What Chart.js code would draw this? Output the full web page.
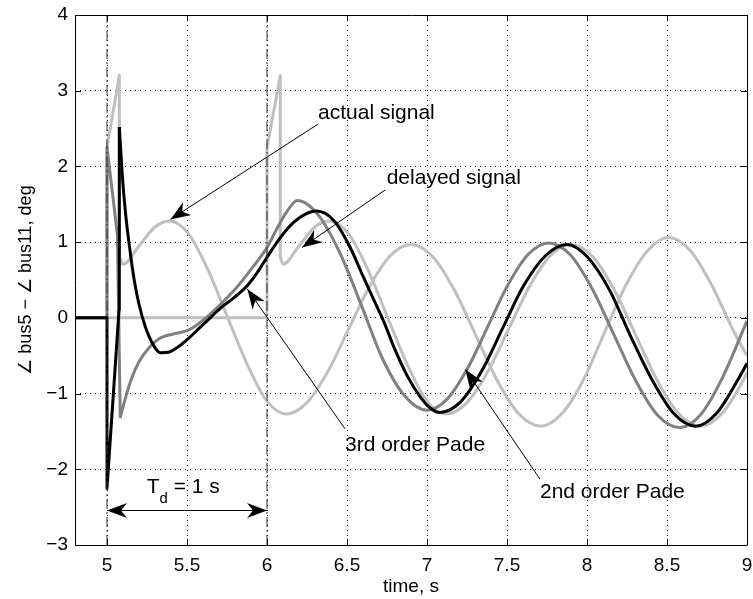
<!DOCTYPE html>
<html>
<head>
<meta charset="utf-8">
<script src="https://cdn.jsdelivr.net/npm/chart.js@4/dist/chart.umd.min.js"></script>
<style>
  html, body { margin: 0; padding: 0; background: #fff; }
</style>
</head>
<body>
<canvas id="chart" width="753" height="599"></canvas>
<script>
// tick values
const xTicks = [5, 5.5, 6, 6.5, 7, 7.5, 8, 8.5, 9];
const yTicks = [-3, -2, -1, 0, 1, 2, 3, 4];

// actual signal (light grey): step part, then the oscillation
const actualStepT = [4.8, 5, 5, 5.077, 5.077];
const actualStepV = [0, 0, 2.25, 3.2, 0.8];
const actualWaveT = [5.077, 5.10, 5.2, 5.3, 5.39, 5.51, 5.63, 5.755, 5.88, 6.0, 6.12, 6.25, 6.38, 6.51, 6.64, 6.77, 6.9, 7.035, 7.17, 7.305, 7.44, 7.575, 7.71, 7.845, 7.98, 8.11, 8.245, 8.38, 8.51, 8.645, 8.78, 8.91, 9.0];
const actualWaveV = [0.8, 0.71, 0.95, 1.2, 1.28, 1.11, 0.64, 0, -0.63, -1.1, -1.27, -1.12, -0.71, -0.15, 0.41, 0.82, 0.97, 0.81, 0.37, -0.23, -0.83, -1.27, -1.43, -1.26, -0.81, -0.19, 0.44, 0.89, 1.06, 0.89, 0.43, -0.15, -0.5];

// delayed signal (light grey)
const delayedStepT = [4.8, 6, 6, 6.083, 6.083];
const delayedStepV = [0, 0, 2.25, 3.2, 0.8];
const delayedWaveT = [6.083, 6.10, 6.2, 6.3, 6.39, 6.51, 6.63, 6.755, 6.88, 7.0, 7.12, 7.25, 7.38, 7.51, 7.64, 7.77, 7.9, 8.035, 8.17, 8.305, 8.44, 8.575, 8.71, 8.845, 8.98, 9.0];
const delayedWaveV = [0.8, 0.71, 0.95, 1.2, 1.28, 1.11, 0.64, 0, -0.63, -1.1, -1.27, -1.12, -0.71, -0.15, 0.41, 0.82, 0.97, 0.81, 0.37, -0.23, -0.83, -1.27, -1.43, -1.26, -0.81, -0.72];

// 2nd order Pade (dark grey)
const pade2StepT = [4.8, 5, 5, 5.065, 5.083];
const pade2StepV = [0, 0, 2.25, 1.1, -1.32];
const pade2WaveT = [5.083, 5.11, 5.15, 5.2, 5.26, 5.33, 5.42, 5.5, 5.57, 5.645, 5.72, 5.81, 5.9, 6.0, 6.06, 6.12, 6.19, 6.32, 6.455, 6.59, 6.72, 6.86, 7.0, 7.127, 7.253, 7.38, 7.507, 7.633, 7.76, 7.897, 8.033, 8.17, 8.307, 8.443, 8.58, 8.71, 8.84, 9.0];
const pade2WaveV = [-1.32, -1.1, -0.82, -0.58, -0.4, -0.27, -0.21, -0.17, -0.08, 0.05, 0.2, 0.4, 0.64, 0.93, 1.17, 1.39, 1.55, 1.36, 0.86, 0.165, -0.53, -1.03, -1.22, -1.07, -0.67, -0.115, 0.44, 0.84, 0.99, 0.83, 0.38, -0.23, -0.84, -1.29, -1.45, -1.28, -0.82, -0.04];

// 3rd order Pade (black)
const pade3StepT = [4.8, 5, 5, 5.075, 5.077];
const pade3StepV = [0, 0, -2.25, 0.1, 2.52];
const pade3WaveT = [5.077, 5.095, 5.115, 5.14, 5.17, 5.2, 5.24, 5.29, 5.333, 5.39, 5.44, 5.51, 5.58, 5.65, 5.71, 5.79, 5.875, 5.94, 6.0, 6.08, 6.166, 6.24, 6.31, 6.42, 6.52, 6.6, 6.667, 6.73, 6.8, 6.88, 6.96, 7.02, 7.08, 7.21, 7.34, 7.47, 7.6, 7.74, 7.875, 8.0, 8.14, 8.27, 8.41, 8.545, 8.68, 8.81, 8.945, 9.0];
const pade3WaveV = [2.52, 1.9, 1.4, 0.95, 0.5, 0.18, -0.12, -0.36, -0.46, -0.45, -0.39, -0.27, -0.13, 0.01, 0.13, 0.26, 0.42, 0.6, 0.8, 1.05, 1.26, 1.37, 1.41, 1.28, 0.93, 0.55, 0.24, -0.05, -0.42, -0.78, -1.05, -1.19, -1.25, -1.11, -0.71, -0.15, 0.41, 0.82, 0.97, 0.81, 0.37, -0.23, -0.83, -1.27, -1.43, -1.26, -0.81, -0.6];

// delay markers (dash-dot verticals)
const markerT = [5, 6];

const LIGHT = 'rgb(191,191,191)';
const DARK = 'rgb(128,128,128)';
const FONT = '"Liberation Sans", Arial, Helvetica, sans-serif';

function pts(ts, vs) {
  return ts.map((t, i) => ({ x: t, y: vs[i] }));
}

function line(ts, vs, color, smooth) {
  return {
    data: pts(ts, vs),
    borderColor: color,
    borderWidth: 3,
    pointRadius: 0,
    fill: false,
    borderJoinStyle: 'round',
    tension: smooth ? 0.4 : 0,
    cubicInterpolationMode: smooth ? 'monotone' : 'default'
  };
}

function marker(t) {
  return {
    data: [{ x: t, y: -3 }, { x: t, y: 4 }],
    borderColor: '#333',
    borderWidth: 1,
    borderDash: [10, 3, 2, 3],
    pointRadius: 0,
    fill: false
  };
}

// first dataset is drawn on top
const datasets = [
  marker(markerT[0]), marker(markerT[1]),
  line(pade3StepT, pade3StepV, '#000', false),
  line(pade3WaveT, pade3WaveV, '#000', true),
  line(pade2StepT, pade2StepV, DARK, false),
  line(pade2WaveT, pade2WaveV, DARK, true),
  line(delayedStepT, delayedStepV, LIGHT, false),
  line(delayedWaveT, delayedWaveV, LIGHT, true),
  line(actualStepT, actualStepV, LIGHT, false),
  line(actualWaveT, actualWaveV, LIGHT, true)
];

// arrows: [fromT, fromV, tipT, tipV]
const arrows = [
  [6.32, 2.56, 5.396, 1.30],
  [6.739, 1.69, 6.219, 0.93],
  [6.4875, -1.466, 5.877, 0.38],
  [7.706, -2.13, 7.239, -0.68]
];
const labels = [
  ['actual signal', 6.319, 2.625],
  ['delayed signal', 6.748, 1.77],
  ['3rd order Pade', 6.4875, -1.757],
  ['2nd order Pade', 7.706, -2.378]
];

function head(ctx, x1, y1, x2, y2) {
  const L = 20, W = 7.5, N = 14;
  const a = Math.atan2(y2 - y1, x2 - x1);
  ctx.save();
  ctx.translate(x2, y2);
  ctx.rotate(a);
  ctx.beginPath();
  ctx.moveTo(0, 0);
  ctx.lineTo(-L, -W);
  ctx.lineTo(-N, 0);
  ctx.lineTo(-L, W);
  ctx.closePath();
  ctx.fill();
  ctx.restore();
}

const notes = {
  id: 'notes',
  afterDatasetsDraw(chart) {
    const { ctx, scales: { x, y } } = chart;
    ctx.save();
    ctx.strokeStyle = '#000';
    ctx.fillStyle = '#000';
    ctx.lineWidth = 1;
    arrows.forEach(a => {
      const x1 = x.getPixelForValue(a[0]), y1 = y.getPixelForValue(a[1]);
      const x2 = x.getPixelForValue(a[2]), y2 = y.getPixelForValue(a[3]);
      ctx.beginPath();
      ctx.moveTo(x1, y1);
      ctx.lineTo(x2, y2);
      ctx.stroke();
      head(ctx, x1, y1, x2, y2);
    });

    // T_d double arrow between the markers
    const ya = Math.round(y.getPixelForValue(-2.54)) + 0.5;
    const xa = x.getPixelForValue(markerT[0]), xb = x.getPixelForValue(markerT[1]);
    ctx.beginPath();
    ctx.moveTo(xa, ya);
    ctx.lineTo(xb, ya);
    ctx.stroke();
    head(ctx, xb, ya, xa, ya);
    head(ctx, xa, ya, xb, ya);

    ctx.font = '21px ' + FONT;
    ctx.textBaseline = 'alphabetic';
    ctx.textAlign = 'left';
    labels.forEach(l => {
      ctx.fillText(l[0], x.getPixelForValue(l[1]), y.getPixelForValue(l[2]));
    });

    let tx = x.getPixelForValue(5.248);
    const ty = y.getPixelForValue(-2.308);
    ctx.fillText('T', tx, ty);
    tx += ctx.measureText('T').width;
    ctx.font = '15px ' + FONT;
    ctx.fillText('d', tx, ty + 10);
    tx += ctx.measureText('d').width;
    ctx.font = '21px ' + FONT;
    ctx.fillText(' = 1 s', tx, ty);
    ctx.restore();
  },
  afterDraw(chart) {
    const { ctx, chartArea: a, scales: { x, y } } = chart;
    ctx.save();
    ctx.strokeStyle = '#000';
    ctx.lineWidth = 1;
    ctx.beginPath();
    ctx.rect(Math.round(a.left) + 0.5, Math.round(a.top) + 0.5, Math.round(a.right - a.left), Math.round(a.bottom - a.top));
    xTicks.forEach(v => {
      const px = Math.round(x.getPixelForValue(v)) + 0.5;
      ctx.moveTo(px, a.bottom); ctx.lineTo(px, a.bottom - 6);
      ctx.moveTo(px, a.top); ctx.lineTo(px, a.top + 6);
    });
    yTicks.forEach(v => {
      const py = Math.round(y.getPixelForValue(v)) + 0.5;
      ctx.moveTo(a.left, py); ctx.lineTo(a.left + 6, py);
      ctx.moveTo(a.right, py); ctx.lineTo(a.right - 6, py);
    });
    ctx.stroke();
    ctx.restore();
  }
};

new Chart(document.getElementById('chart'), {
  type: 'line',
  data: { datasets },
  options: {
    responsive: false,
    animation: false,
    layout: { padding: { top: 15, right: 6, left: 0, bottom: 0 } },
    plugins: { legend: { display: false }, tooltip: { enabled: false } },
    scales: {
      x: {
        type: 'linear',
        min: 4.8,
        max: 9,
        afterBuildTicks: s => { s.ticks = xTicks.map(v => ({ value: v })); },
        afterFit: s => { s.height = 54; s.paddingLeft = 0; s.paddingRight = 0; },
        ticks: { color: '#000', font: { family: FONT, size: 19 }, padding: 9, maxRotation: 0, autoSkip: false,
                 callback: v => String(v) },
        grid: { color: '#000', lineWidth: 1, drawTicks: false },
        border: { display: false, dash: [1, 4] },
        title: { display: true, text: 'time, s', color: '#000', font: { family: FONT, size: 19, lineHeight: 1 }, padding: { top: 0, bottom: 2.5 } }
      },
      y: {
        min: -3,
        max: 4,
        afterBuildTicks: s => { s.ticks = yTicks.map(v => ({ value: v })); },
        afterFit: s => { s.width = 75; s.paddingTop = 0; s.paddingBottom = 0; },
        ticks: { color: '#000', font: { family: FONT, size: 19 }, padding: 7,
                 callback: v => String(v).replace('-', '\u2212') },
        grid: { color: '#000', lineWidth: 1, drawTicks: false },
        border: { display: false, dash: [1, 4] },
        title: { display: true, text: '\u2220 bus5 \u2212 \u2220 bus11, deg', color: '#000', font: { family: FONT, size: 18 }, padding: { top: 15, bottom: 0 } }
      }
    }
  },
  plugins: [notes]
});
</script>
</body>
</html>
